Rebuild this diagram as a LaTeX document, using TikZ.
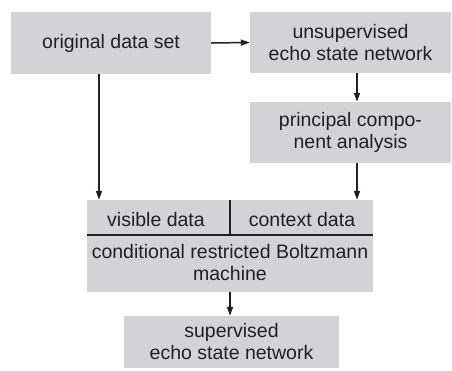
\documentclass[tikz,border=0pt]{standalone}
\usepackage{fontspec}
\setmainfont{Liberation Sans}
\usetikzlibrary{arrows.meta}
\definecolor{boxfill}{RGB}{211,211,213}
\definecolor{ink}{RGB}{35,31,32}
\begin{document}
\begin{tikzpicture}[x=1pt,y=-1pt,
  font=\fontsize{19.5}{22}\selectfont,
  box/.style={fill=boxfill, draw=none, inner sep=0pt, align=center, text=ink},
  lbl/.style={inner sep=0pt, align=center, text=ink},
  arr/.style={draw=ink, line width=1.5pt, -{Triangle[length=9pt,width=6pt]}},
  divline/.style={draw=ink, line width=1.5pt}]
\useasboundingbox (0,0) rectangle (452,370);
\node[box, minimum width=200pt, minimum height=62pt] (orig) at (111,43) {original data set};
\node[box, minimum width=201pt, minimum height=61pt] (unsup) at (350.5,42.5) {unsupervised\\echo state network};
\node[box, minimum width=201pt, minimum height=61pt] (pca) at (350.5,132.5) {principal compo-\\nent analysis};
\node[box, minimum width=286pt, minimum height=92pt] (crbm) at (230,246) {};
\node[box, minimum width=215pt, minimum height=52pt] (sup) at (231.5,342) {supervised\\echo state network};
\node[lbl] (vis) at (156,220) {visible data};
\node[lbl] (ctx) at (302,220) {context data};
\node[lbl] (crbmtext) at (230,263) {conditional restricted Boltzmann\\machine};
\coordinate (hl) at (87,235);
\coordinate (hr) at (373,235);
\coordinate (vt) at (230,200);
\coordinate (vb) at (230,235);
\draw[divline] (hl) -- (hr);
\draw[divline] (vt) -- (vb);
\draw[arr] (orig.east) -- (unsup.west);
\draw[arr] (orig.south -| 99,0) -- (crbm.north -| 99,0);
\draw[arr] (unsup.south -| 357,0) -- (pca.north -| 357,0);
\draw[arr] (pca.south -| 357,0) -- (crbm.north -| 357,0);
\draw[arr] (crbm.south) -- (sup.north -| crbm.south);
\end{tikzpicture}
\end{document}
